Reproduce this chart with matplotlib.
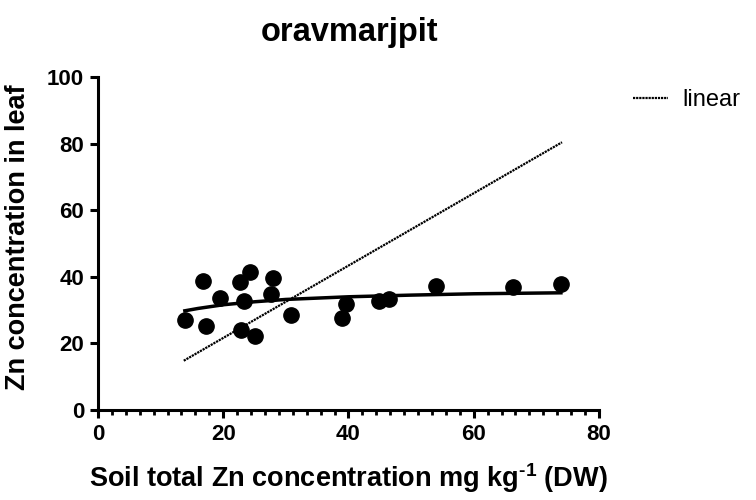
import matplotlib
matplotlib.use('Agg')
import matplotlib.pyplot as plt
from matplotlib.ticker import MultipleLocator

plt.rcParams['font.family'] = ['Liberation Sans', 'DejaVu Sans']
plt.rcParams['font.weight'] = 'bold'
plt.rcParams['mathtext.fontset'] = 'custom'
plt.rcParams['mathtext.rm'] = 'Liberation Sans:bold'
plt.rcParams['mathtext.bf'] = 'Liberation Sans:bold'

# ---- data --------------------------------------------------------------
soil_zn = [13.9, 16.7, 17.3, 19.5, 22.7, 22.8, 23.3, 24.3, 25.1, 27.6, 27.9,
           30.9, 39.0, 39.6, 44.9, 46.5, 53.9, 66.2, 74.0]
leaf_zn = [27.0, 38.8, 25.2, 33.5, 38.5, 24.0, 32.8, 41.5, 22.2, 34.8, 39.5,
           28.5, 27.5, 31.7, 32.8, 33.2, 37.2, 36.8, 37.8]

# saturating fit curve, traced
curve_x = [13.6, 16.0, 20.0, 25.0, 30.0, 40.0, 50.0, 60.0, 74.2]
curve_y = [29.7, 30.5, 31.6, 32.5, 33.2, 34.0, 34.5, 34.9, 35.2]

# "linear" line end points
lin_x = [13.7, 74.1]
lin_y = [14.8, 80.4]

fig = plt.figure(figsize=(7.56, 5.0), dpi=100)
ax = fig.add_axes([0.1296, 0.18, 0.6627, 0.666])

ax.plot(lin_x, lin_y, color='black', lw=1.6, linestyle=(0, (1, 0.4)), label='linear')
ax.plot(curve_x, curve_y, color='black', lw=2.5, solid_capstyle='butt')
ax.plot(soil_zn, leaf_zn, 'o', color='black', ms=11, zorder=3)

ax.set_xlim(0, 80)
ax.set_ylim(0, 100)
ax.xaxis.set_major_locator(MultipleLocator(20))
ax.xaxis.set_minor_locator(MultipleLocator(20 / 9))
ax.yaxis.set_major_locator(MultipleLocator(20))

for s in ('top', 'right'):
    ax.spines[s].set_visible(False)
for s in ('left', 'bottom'):
    ax.spines[s].set_linewidth(2.2)
ax.tick_params(which='major', direction='out', length=6, width=2.2, labelsize=16, pad=4)
ax.tick_params(which='minor', direction='out', length=3.5, width=2.0)

ax.set_xlabel(r'Soil total Zn concentration mg kg$^{\text{-1}}$ (DW)', fontsize=19.5,
              fontweight='bold', va='center')
ax.xaxis.set_label_coords(0.5, (410 - 478) / 333)
ax.set_ylabel('Zn concentration in leaf', fontsize=19.5, fontweight='bold', va='center')
ax.yaxis.set_label_coords((18 - 98) / 501, 0.52)
ax.text(0.503, (410 - 33) / 333, 'oravmarjpit', transform=ax.transAxes,
        ha='center', va='center', fontsize=23.5, fontweight='bold')

ax.legend(loc='center left', bbox_to_anchor=((633 - 98) / 501, (410 - 100) / 333),
          frameon=False, borderpad=0, borderaxespad=0,
          handlelength=1.5, handletextpad=0.6, prop={'weight': 'normal', 'size': 17})

fig.savefig('out.png', dpi=100)
